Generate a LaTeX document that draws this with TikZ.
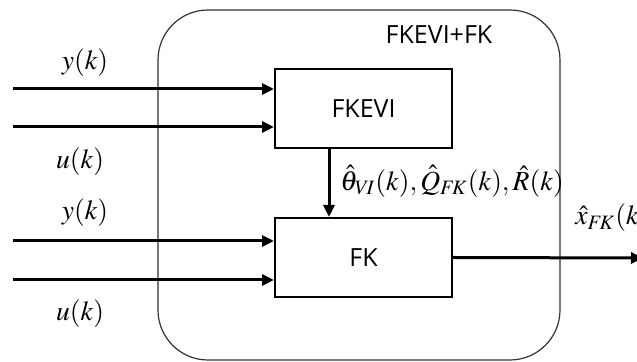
\documentclass[tikz,border=0pt]{standalone}
\usepackage{mathptmx}
\usepackage{fontspec}
\setsansfont{Open Sans}
\usepackage{tikz}
\usetikzlibrary{positioning, arrows.meta, calc}
\tikzset{
  blockbox/.style={
    draw=black, line width=1pt, fill=white,
    minimum width=88.5pt, minimum height=39.5pt,
    align=center, font=\sffamily\fontsize{12.5}{15}\selectfont
  },
  sysbox/.style={
    draw=black!80, line width=0.6pt, rounded corners=25pt,
    minimum width=201pt, minimum height=175pt
  },
  sig/.style={line width=1.5pt, -{Triangle[length=6pt,width=5.5pt]}},
  siglabel/.style={font=\fontsize{13.8}{16}\selectfont, inner sep=1pt}
}

\begin{document}
\begin{tikzpicture}[x=0.5pt, y=-0.5pt]
\useasboundingbox (0,0) rectangle (637,362);

%% Outer block
\node[sysbox] (sys) at (359,185) {};
\node[font=\sffamily\fontsize{12.5}{15}\selectfont] (syslab) at (439,35) {FKEVI+FK};

%% Blocks
\node[blockbox] (fkevi) at (363.5,108.5) {FKEVI};
\node[blockbox] (fk) at (363.5,257.5) {FK};

%% Inputs
\coordinate (y1) at (13,89);
\coordinate (u1) at (13,127);
\coordinate (y2) at (13,241);
\coordinate (u2) at (13,280);
\coordinate (out) at (643,258);

\draw[sig] (y1) -- (fkevi.west |- y1);
\draw[sig] (u1) -- (fkevi.west |- u1);
\draw[sig] (y2) -- (fk.west |- y2);
\draw[sig] (u2) -- (fk.west |- u2);

\node[siglabel] (ylab1) at (85,63) {$y(k)$};
\node[siglabel] (ulab1) at (80,162) {$u(k)$};
\node[siglabel] (ylab2) at (85,213) {$y(k)$};
\node[siglabel] (ulab2) at (80,314) {$u(k)$};

%% Parameters from FKEVI to FK
\draw[sig] ($(fkevi.south west)+(55,0)$) -- ($(fk.north west)+(55,0)$);
\node[siglabel, anchor=west] (parlab) at (338,181)
  {$\hat{\theta}_{V\!I}(k),\hat{Q}_{F\!K}(k),\hat{R}(k)$};

%% Output
\draw[sig] (fk.east) -- (out);
\node[siglabel, anchor=west] (xlab) at (573,218) {$\hat{x}_{F\!K}(k)$};

\end{tikzpicture}
\end{document}
